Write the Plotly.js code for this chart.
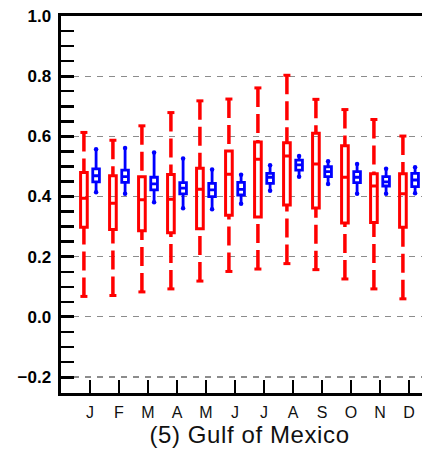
<!DOCTYPE html>
<html>
<head>
<meta charset="utf-8">
<script src="https://cdn.plot.ly/plotly-3.0.1.min.js"></script>
<style>
html,body{margin:0;padding:0;overflow:hidden;background:#fff;}
#chart{width:440px;height:454px;}
</style>
</head>
<body>
<div id="chart"></div>
<script>
const months = ['J','F','M','A','M','J','J','A','S','O','N','D'];
const monthIndex = [1,2,3,4,5,6,7,8,9,10,11,12];

const redMin = [0.068,0.071,0.083,0.093,0.119,0.151,0.159,0.177,0.157,0.126,0.093,0.060];
const redQ1  = [0.298,0.290,0.286,0.280,0.293,0.338,0.332,0.372,0.362,0.312,0.314,0.298];
const redMed = [0.394,0.378,0.389,0.391,0.424,0.474,0.524,0.535,0.508,0.464,0.435,0.409];
const redQ3  = [0.480,0.469,0.466,0.473,0.494,0.551,0.581,0.579,0.610,0.569,0.476,0.476];
const redMax = [0.613,0.587,0.635,0.679,0.718,0.724,0.761,0.803,0.723,0.689,0.656,0.601];

const blueMin = [0.414,0.409,0.381,0.361,0.358,0.376,0.419,0.466,0.442,0.409,0.409,0.411];
const blueQ1  = [0.449,0.447,0.422,0.409,0.400,0.405,0.444,0.488,0.466,0.446,0.435,0.433];
const blueMed = [0.469,0.466,0.442,0.428,0.422,0.424,0.464,0.505,0.483,0.464,0.449,0.455];
const blueQ3  = [0.492,0.488,0.464,0.446,0.444,0.447,0.477,0.521,0.499,0.483,0.466,0.477];
const blueMax = [0.557,0.561,0.546,0.526,0.490,0.472,0.504,0.535,0.517,0.508,0.492,0.497];

const RED = '#ff0000', BLUE = '#0000ff';
const OFF = 0.21, BW = 0.23;
const xRed = monthIndex.map(m => m - OFF);
const xBlue = monthIndex.map(m => m + OFF);

// whisker segments drawn from the extreme toward the box
function segs(xs, ends, starts) {
  const X = [], Y = [];
  xs.forEach((x, i) => { X.push(x, x, null); Y.push(ends[i], starts[i], null); });
  return {X, Y};
}
const rUp = segs(xRed, redMax, redQ3);
const rDn = segs(xRed, redMin, redQ1);

const traces = [
  {type:'scatter', mode:'lines', x:rUp.X.concat(rDn.X), y:rUp.Y.concat(rDn.Y),
   line:{color:RED, width:3.5, dash:'19px,7px'}, hoverinfo:'skip', showlegend:false},
  {type:'scatter', mode:'markers', x:xRed.concat(xRed), y:redMax.concat(redMin),
   marker:{symbol:'line-ew', size:5, line:{color:RED, width:3}}, showlegend:false, hoverinfo:'skip'},
  {type:'box', x:xRed, q1:redQ1, median:redMed, q3:redQ3, lowerfence:redQ1, upperfence:redQ3,
   width:BW, whiskerwidth:0, boxpoints:false, fillcolor:'rgba(255,255,255,0)',
   line:{color:RED, width:3}, showlegend:false},
  {type:'box', x:xBlue, q1:blueQ1, median:blueMed, q3:blueQ3, lowerfence:blueMin, upperfence:blueMax,
   width:BW, whiskerwidth:0, boxpoints:false, fillcolor:'rgba(255,255,255,0)',
   line:{color:BLUE, width:2.8}, showlegend:false},
  {type:'scatter', mode:'markers', x:xBlue.concat(xBlue), y:blueMax.concat(blueMin),
   marker:{symbol:'circle', size:4.5, color:BLUE}, showlegend:false, hoverinfo:'skip'}
];

const layout = {
  width:440, height:454,
  margin:{l:61, r:2, t:16, b:61},
  paper_bgcolor:'#fff', plot_bgcolor:'#fff',
  font:{family:'"Liberation Sans", Arial, sans-serif', color:'#000'},
  xaxis:{
    range:[0,13], tickmode:'array', tickvals:monthIndex, ticktext:months,
    ticks:'inside', ticklen:13, tickwidth:2.5, tickcolor:'#000',
    showline:true, linewidth:3, linecolor:'#000', mirror:true,
    showgrid:false, zeroline:false,
    tickfont:{size:16, color:'#111'},
    ticklabelstandoff:3,
    title:{text:'<span style="letter-spacing:0.6px">(5) Gulf of Mexico</span>', font:{size:24, color:'#111'}, standoff:6}
  },
  yaxis:{
    range:[-0.253,1.0], tick0:-0.2, dtick:0.2, tickformat:'.1f',
    ticks:'inside', ticklen:13, tickwidth:3, tickcolor:'#000',
    minor:{dtick:0.05, tick0:0, ticks:'inside', ticklen:13, tickwidth:2.5, tickcolor:'#000', showgrid:false},
    showline:true, linewidth:3.5, linecolor:'#000', mirror:true,
    showgrid:true, gridcolor:'#8c8c8c', gridwidth:1.2, griddash:'6px,6px',
    zeroline:false,
    tickfont:{size:17, weight:'bold', color:'#000'},
    ticklabelstandoff:3
  }
};

Plotly.newPlot('chart', traces, layout, {staticPlot:true, displayModeBar:false});
</script>
</body>
</html>
